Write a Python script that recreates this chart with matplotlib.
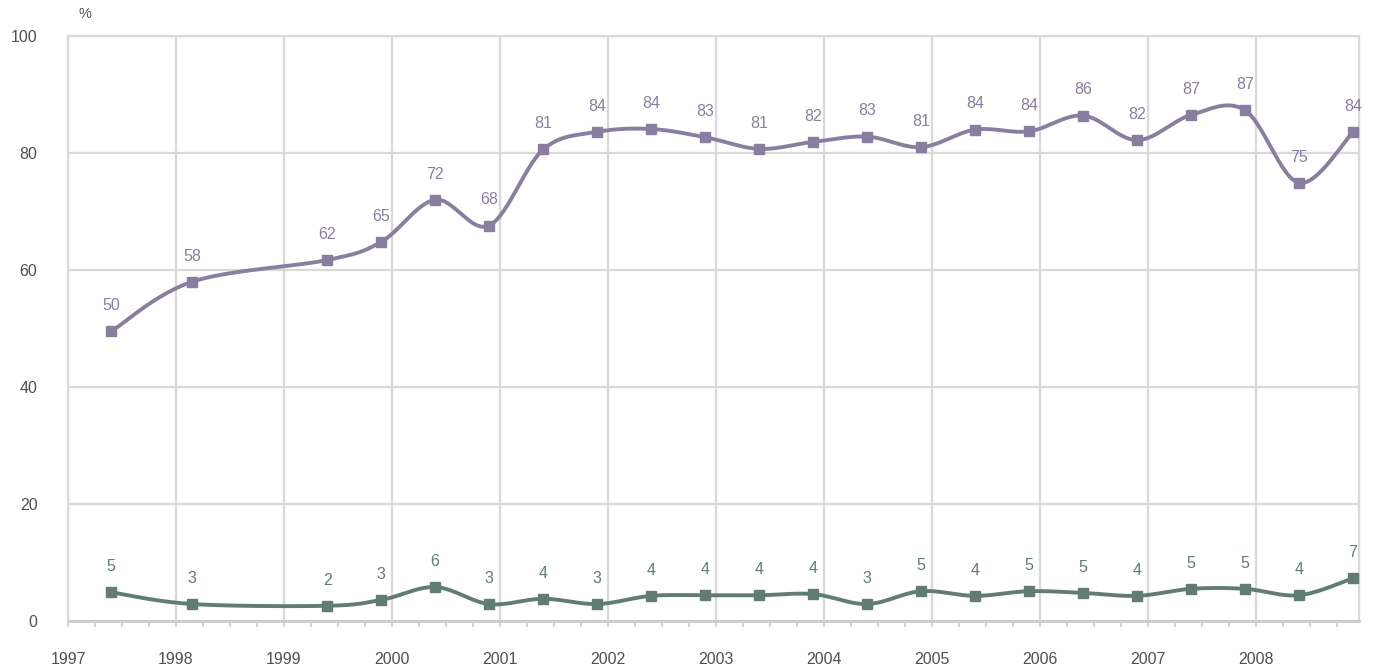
import numpy as np
import matplotlib.pyplot as plt
from matplotlib.ticker import MultipleLocator

plt.rcParams['font.family'] = ['Liberation Sans', 'DejaVu Sans']

# survey dates (fractional years) and the two series
dates = [1997.40, 1998.15, 1999.40, 1999.90, 2000.40, 2000.90, 2001.40, 2001.90,
         2002.40, 2002.90, 2003.40, 2003.90, 2004.40, 2004.90, 2005.40, 2005.90,
         2006.40, 2006.90, 2007.40, 2007.90, 2008.40, 2008.90]
upper = [49.5, 58.0, 61.7, 64.8, 72.0, 67.6, 80.6, 83.6, 84.1, 82.7, 80.7, 81.9,
         82.8, 81.0, 84.0, 83.7, 86.4, 82.2, 86.5, 87.3, 74.9, 83.6]
upper_labels = [50, 58, 62, 65, 72, 68, 81, 84, 84, 83, 81, 82, 83, 81, 84, 84,
                86, 82, 87, 87, 75, 84]
lower = [4.9, 2.9, 2.6, 3.6, 5.8, 2.9, 3.8, 2.9, 4.3, 4.4, 4.4, 4.6, 2.9, 5.1,
         4.3, 5.1, 4.8, 4.3, 5.5, 5.5, 4.4, 7.3]
lower_labels = [5, 3, 2, 3, 6, 3, 4, 3, 4, 4, 4, 4, 3, 5, 4, 5, 5, 4, 5, 5, 4, 7]
years = list(range(1997, 2009))

PURPLE = "#8a7ea0"
GREEN = "#617c72"
GRID = "#d9d9d9"
TXT = "#505050"


def smooth(x, y, n=30):
    # Catmull-Rom style bezier smoothing between the points (like spreadsheet "smoothed line")
    x = np.asarray(x, float)
    y = np.asarray(y, float)
    px = np.concatenate([[x[0]], x, [x[-1]]])
    py = np.concatenate([[y[0]], y, [y[-1]]])
    xs, ys = [], []
    t = np.linspace(0, 1, n)
    for i in range(1, len(px) - 2):
        p0 = np.array([px[i], py[i]])
        p3 = np.array([px[i + 1], py[i + 1]])
        c1 = p0 + (p3 - np.array([px[i - 1], py[i - 1]])) / 6
        c2 = p3 - (np.array([px[i + 2], py[i + 2]]) - p0) / 6
        b = ((1 - t) ** 3)[:, None] * p0 + (3 * (1 - t) ** 2 * t)[:, None] * c1 \
            + (3 * (1 - t) * t ** 2)[:, None] * c2 + (t ** 3)[:, None] * p3
        xs.append(b[:, 0])
        ys.append(b[:, 1])
    return np.concatenate(xs), np.concatenate(ys)


fig = plt.figure(figsize=(13.73, 6.65), dpi=100)
ax = fig.add_axes([68 / 1373, 44 / 665, 1291 / 1373, 585 / 665])

for vals, labels, col in [(upper, upper_labels, PURPLE), (lower, lower_labels, GREEN)]:
    sx, sy = smooth(dates, vals)
    ax.plot(sx, sy, color=col, lw=2.8, zorder=3, solid_capstyle="round")
    ax.plot(dates, vals, ls="none", marker="s", ms=6.8, color=col, zorder=4)
    for d, v, lab in zip(dates, vals, labels):
        ax.annotate(str(lab), (d, v), xytext=(0, 18.5), textcoords="offset points",
                    ha="center", va="center", fontsize=11.5, color=col)

ax.set_xlim(1997, 2008.955)
ax.set_ylim(0, 100)
ax.set_xticks(years)
ax.set_xticklabels([str(y) for y in years])
ax.xaxis.set_minor_locator(MultipleLocator(0.25))
ax.set_yticks(range(0, 101, 20))

ax.grid(True, which="major", color=GRID, lw=1.6)
ax.set_axisbelow(True)
for side in ["left", "right", "top"]:
    ax.spines[side].set_color(GRID)
    ax.spines[side].set_linewidth(1.6)
ax.spines["bottom"].set_color("#cccccc")
ax.spines["bottom"].set_linewidth(2)

ax.tick_params(axis="x", which="both", length=4, color="#cccccc", width=1.2,
               labelsize=11.5, labelcolor=TXT, pad=18)
ax.tick_params(axis="y", length=0, labelsize=11.5, labelcolor=TXT, pad=22)

fig.text(85 / 1373, 1 - 14 / 665, "%", ha="center", va="center", fontsize=10.5, color=TXT)

fig.savefig("out.png", dpi=100)
